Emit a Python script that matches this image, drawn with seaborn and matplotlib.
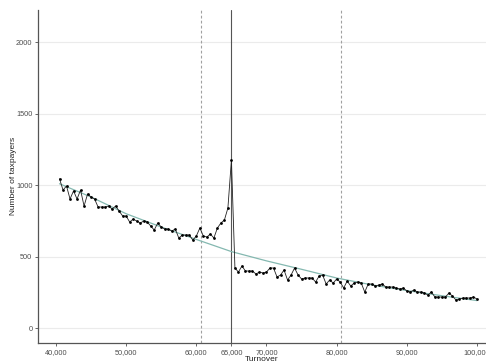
import numpy as np
import pandas as pd
import matplotlib
matplotlib.use("Agg")
import matplotlib.pyplot as plt
import seaborn as sns
from matplotlib.ticker import FuncFormatter

# ---- data ----
turnover = list(range(40500, 100001, 500))
taxpayers = [
    1045, 966, 994, 903, 960, 903, 966, 854, 938, 917,
    903, 847, 847, 847, 854, 833, 854, 819, 784, 784,
    742, 763, 749, 735, 749, 742, 714, 686, 735, 707,
    693, 693, 679, 693, 630, 651, 651, 651, 616, 644,
    700,
    644, 637, 658, 630, 700, 735, 756, 840, 1176,
    420, 392, 434, 399, 399, 399, 378, 392, 385, 392,
    420, 420, 357, 371, 406, 336, 371, 420, 371, 343,
    350, 350, 350, 322, 364, 371, 308, 336, 315, 343,
    322,
    280, 329, 294, 315, 322, 315, 252, 308, 308, 294,
    301, 308, 287, 287, 287, 280, 273, 280, 259, 252,
    266, 252, 252, 245, 231, 252, 217, 217, 217, 217,
    245, 224, 196, 203, 210, 210, 210, 217, 203,
]
cf_turnover = [40500, 45000, 50000, 55000, 60000, 65000, 70000,
               75000, 80000, 85000, 90000, 95000, 100000]
cf_taxpayers = [1010, 917, 800, 707, 620, 535, 470, 411, 350, 302, 262, 226, 192]

threshold = 65000
lower_bound = 60600
upper_bound = 80600

x_ticks = [40000, 50000, 60000, 65000, 70000, 80000, 90000, 100000]
y_ticks = [0, 500, 1000, 1500, 2000]

df = pd.DataFrame({"Turnover": turnover, "Number of taxpayers": taxpayers})
cf = pd.DataFrame({"Turnover": cf_turnover, "Number of taxpayers": cf_taxpayers})

sns.set_theme(style="white")
plt.rcParams["font.family"] = ["Liberation Sans", "DejaVu Sans"]

fig = plt.figure(figsize=(4.86, 3.63), dpi=100)
ax = fig.add_axes([38 / 486, 1 - 343 / 363, 1 - 38 / 486, (343 - 9.5) / 363])

for yv in y_ticks:
    ax.axhline(yv, color="#ebebeb", lw=0.8, zorder=0)

ax.axvline(lower_bound, color="#a0a0a0", lw=0.8, ls=(0, (2.5, 2)), zorder=1)
ax.axvline(upper_bound, color="#a0a0a0", lw=0.8, ls=(0, (2.5, 2)), zorder=1)
ax.axvline(threshold, color="#555555", lw=0.8, zorder=1)

sns.lineplot(data=cf, x="Turnover", y="Number of taxpayers", color="#84b8b0",
             lw=0.9, ax=ax, zorder=2)
sns.lineplot(data=df, x="Turnover", y="Number of taxpayers", color="#222222",
             lw=0.6, ax=ax, zorder=3)
sns.scatterplot(data=df, x="Turnover", y="Number of taxpayers", color="black",
                s=4, linewidth=0, ax=ax, zorder=4)

ax.set_xlim(37435, 101283)
ax.set_ylim(-105, 2230)
ax.set_xticks(x_ticks)
ax.set_yticks(y_ticks)
ax.xaxis.set_major_formatter(FuncFormatter(lambda v, p: f"{int(v):,}"))
ax.tick_params(axis="both", labelsize=5.3, colors="#4d4d4d", length=2.5,
               width=0.6, pad=1.5, bottom=True, left=True)
for lab in ax.get_xticklabels() + ax.get_yticklabels():
    lab.set_color("#4d4d4d")

for s in ["top", "right"]:
    ax.spines[s].set_visible(False)
for s in ["left", "bottom"]:
    ax.spines[s].set_color("#555555")
    ax.spines[s].set_linewidth(0.9)

ax.set_xlabel("Turnover", fontsize=6, color="#222222", labelpad=0)
ax.set_ylabel("Number of taxpayers", fontsize=6, color="#222222")
ax.yaxis.set_label_coords(-0.046, 0.5)

fig.savefig("out.png", dpi=100)
